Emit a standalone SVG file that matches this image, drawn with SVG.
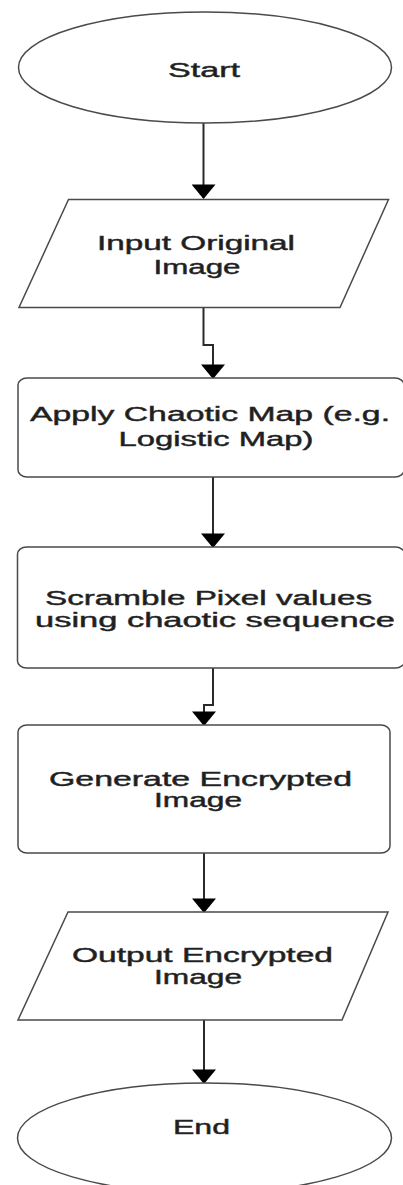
<svg xmlns="http://www.w3.org/2000/svg" width="403" height="1185" viewBox="0 0 403 1185">
  <style>
    .shape { fill: #ffffff; stroke: #4a4a4a; stroke-width: 1.5; }
    .conn { fill: none; stroke: #2a2a2a; stroke-width: 2; }
    .lbl { font-family: "Liberation Sans", Arial, sans-serif; font-size: 20px; fill: #1e1e1e; stroke: #2a2a2a; stroke-width: 0.45; text-anchor: middle; }
  </style>
  <defs>
    <marker id="arrow" markerUnits="userSpaceOnUse" markerWidth="16" markerHeight="24" viewBox="0 0 14 23" refX="13" refY="11.5" orient="auto">
      <path d="M0,0 L14,11.5 L0,23 Z" fill="#000000"/>
    </marker>
  </defs>
  <rect width="403" height="1185" fill="#ffffff"/>

  <g id="connectors">
    <path class="conn" d="M203.5,123 L203.5,198" marker-end="url(#arrow)"/>
    <path class="conn" d="M203.5,307.5 L203.5,345 L213,345 L213,378" marker-end="url(#arrow)"/>
    <path class="conn" d="M213,477 L213,547" marker-end="url(#arrow)"/>
    <path class="conn" d="M213,668 L213,705 L204,705 L204,725" marker-end="url(#arrow)"/>
    <path class="conn" d="M204,853 L204,912" marker-end="url(#arrow)"/>
    <path class="conn" d="M204,1020 L204,1083" marker-end="url(#arrow)"/>
  </g>

  <g id="start">
    <ellipse class="shape" cx="205" cy="67.5" rx="186.5" ry="55.5"/>
    <text class="lbl" x="204" y="76.5" textLength="72" lengthAdjust="spacingAndGlyphs">Start</text>
  </g>

  <g id="input">
    <polygon class="shape" points="68.5,199.5 388.5,199.5 340,307.5 19,307.5"/>
    <text class="lbl" x="196" y="249.5" textLength="198" lengthAdjust="spacingAndGlyphs">Input Original</text>
    <text class="lbl" x="197" y="273.5" textLength="87" lengthAdjust="spacingAndGlyphs">Image</text>
  </g>

  <g id="chaotic-map">
    <rect class="shape" x="18" y="378" width="386" height="99" rx="9" ry="7"/>
    <text class="lbl" x="210" y="421" textLength="360" lengthAdjust="spacingAndGlyphs">Apply Chaotic Map (e.g.</text>
    <text class="lbl" x="216" y="446" textLength="195" lengthAdjust="spacingAndGlyphs">Logistic Map)</text>
  </g>

  <g id="scramble">
    <rect class="shape" x="17.5" y="547" width="387" height="121" rx="9" ry="7"/>
    <text class="lbl" x="208.5" y="605" textLength="327" lengthAdjust="spacingAndGlyphs">Scramble Pixel values</text>
    <text class="lbl" x="215" y="626.5" textLength="360" lengthAdjust="spacingAndGlyphs">using chaotic sequence</text>
  </g>

  <g id="generate">
    <rect class="shape" x="18" y="725" width="372" height="128" rx="9" ry="7"/>
    <text class="lbl" x="200.5" y="786" textLength="303" lengthAdjust="spacingAndGlyphs">Generate Encrypted</text>
    <text class="lbl" x="198" y="807" textLength="88" lengthAdjust="spacingAndGlyphs">Image</text>
  </g>

  <g id="output">
    <polygon class="shape" points="68,912 388,912 342,1020 18,1020"/>
    <text class="lbl" x="202.5" y="962" textLength="261" lengthAdjust="spacingAndGlyphs">Output Encrypted</text>
    <text class="lbl" x="198" y="983.5" textLength="88" lengthAdjust="spacingAndGlyphs">Image</text>
  </g>

  <g id="end">
    <ellipse class="shape" cx="204.5" cy="1138" rx="187" ry="55"/>
    <text class="lbl" x="201.5" y="1134" textLength="57" lengthAdjust="spacingAndGlyphs">End</text>
  </g>
</svg>
